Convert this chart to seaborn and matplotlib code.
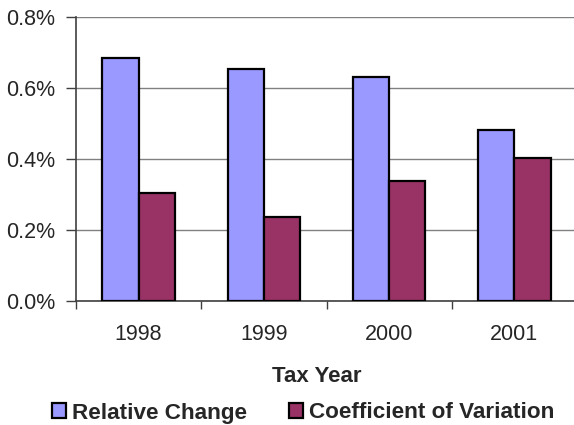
import matplotlib
matplotlib.use("Agg")
import matplotlib.pyplot as plt
import seaborn as sns
import pandas as pd
from matplotlib.ticker import FuncFormatter, FixedLocator

# Data (percent)
years = ["1998", "1999", "2000", "2001"]
relative_change = [0.683, 0.654, 0.632, 0.481]
coef_variation = [0.304, 0.236, 0.338, 0.401]
series_names = ["Relative Change", "Coefficient of Variation"]
colors = ["#9999FF", "#993366"]

df = pd.DataFrame({
    "year": years * 2,
    "value": relative_change + coef_variation,
    "series": [series_names[0]] * 4 + [series_names[1]] * 4,
})

sns.set_style("white")
plt.rcParams["font.family"] = ["Liberation Sans", "DejaVu Sans"]

W, H = 574, 425
fig = plt.figure(figsize=(W / 100, H / 100), dpi=100)
ax = fig.add_axes([76 / W, (H - 300.7) / H, (577 - 76) / W, (300.7 - 17) / H])

sns.barplot(data=df, x="year", y="value", hue="series", hue_order=series_names,
            palette=colors, width=0.577, edgecolor="black", linewidth=1.6,
            saturation=1, ax=ax, zorder=3)

ax.set_xlim(-0.5, 3.5)
ax.set_ylim(0, 0.8)
ax.set_yticks([0, 0.2, 0.4, 0.6, 0.8])
ax.yaxis.set_major_formatter(FuncFormatter(lambda v, p: f"{v:.1f}%"))
ax.yaxis.grid(True, color="#808080", linewidth=1, zorder=0)
ax.set_axisbelow(True)
ax.tick_params(axis="y", which="major", length=7, width=1, color="#404040",
               labelsize=15.5, pad=7.7, left=True)
ax.tick_params(axis="x", which="major", length=0, labelsize=15.5, pad=17)
ax.xaxis.set_minor_locator(FixedLocator([-0.5, 0.5, 1.5, 2.5]))
ax.tick_params(axis="x", which="minor", length=6, width=1, color="#404040", bottom=True)

for s in ["top", "right"]:
    ax.spines[s].set_visible(False)
for s in ["left", "bottom"]:
    ax.spines[s].set_color("#404040")
    ax.spines[s].set_linewidth(1.2)

ax.set_ylabel("")
ax.set_xlabel("Tax Year", fontsize=16, fontweight="bold", va="center")
ax.xaxis.set_label_coords((316.7 - 76) / 501, (300.7 - 376.5) / 283.7)

handles, labels = ax.get_legend_handles_labels()
ax.legend_.remove()
fig.legend(handles, labels, loc="center", bbox_to_anchor=(303.4 / W, (H - 413) / H),
           ncol=2, frameon=False, prop={"weight": "bold", "size": 16.2},
           handlelength=0.63, handleheight=0.63, handletextpad=0.27,
           columnspacing=1.85, borderpad=0, borderaxespad=0)

fig.savefig("out.png", dpi=100)
